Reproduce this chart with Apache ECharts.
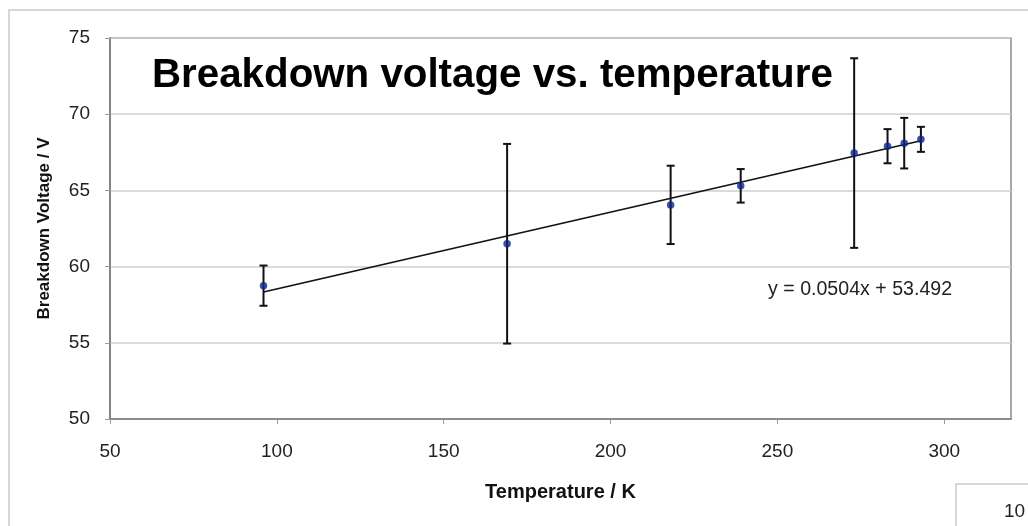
<!DOCTYPE html>
<html>
<head>
<meta charset="utf-8">
<script src="https://cdn.jsdelivr.net/npm/echarts@6/dist/echarts.min.js"></script>
<style>
html,body{margin:0;padding:0;background:#fff;}
#c{width:1028px;height:526px;}
</style>
</head>
<body>
<div id="c"></div>
<script>
// Data
var temperatures = [96, 169, 218, 239, 273, 283, 288, 293];
var voltages = [58.75, 61.5, 64.05, 65.3, 67.45, 67.9, 68.1, 68.35];
var errors = [1.32, 6.55, 2.57, 1.1, 6.22, 1.12, 1.66, 0.82];
var trendSlope = 0.0504;
var trendIntercept = 53.492;
var xTicks = [50, 100, 150, 200, 250, 300];
var yTicks = [50, 55, 60, 65, 70, 75];
var titleText = 'Breakdown voltage vs. temperature';
var equationText = 'y = 0.0504x + 53.492';

var FONT = '"Liberation Sans", Arial, Helvetica, sans-serif';
var points = temperatures.map(function (t, i) { return [t, voltages[i]]; });
var bars = temperatures.map(function (t, i) { return [t, voltages[i] - errors[i], voltages[i] + errors[i]]; });
var tMin = Math.min.apply(null, temperatures), tMax = Math.max.apply(null, temperatures);
var trend = [[tMin, trendSlope * tMin + trendIntercept], [tMax, trendSlope * tMax + trendIntercept]];

var chart = echarts.init(document.getElementById('c'), null, {renderer: 'canvas'});
chart.setOption({
  animation: false,
  backgroundColor: '#fff',
  grid: {left: 110, top: 38, right: 17, bottom: 107, show: true, borderColor: '#8a8a8a', borderWidth: 1.5, backgroundColor: 'transparent'},
  xAxis: {
    type: 'value', min: xTicks[0], max: 320, interval: 50,
    name: 'Temperature / K', nameLocation: 'middle', nameGap: 63,
    nameTextStyle: {fontFamily: FONT, fontWeight: 'bold', fontSize: 20, color: '#111'},
    axisLine: {show: true, lineStyle: {color: '#7a7a7a', width: 1.5}},
    axisTick: {show: true, inside: false, length: 5, lineStyle: {color: '#9a9a9a'}},
    axisLabel: {showMaxLabel: false, margin: 23, fontFamily: FONT, fontSize: 19, color: '#222'},
    splitLine: {show: false}
  },
  yAxis: {
    type: 'value', min: yTicks[0], max: yTicks[yTicks.length - 1], interval: 5,
    name: 'Breakdown Voltage / V', nameLocation: 'middle', nameGap: 57,
    nameTextStyle: {fontFamily: FONT, fontWeight: 'bold', fontSize: 17, color: '#111'},
    axisLine: {show: true, lineStyle: {color: '#7a7a7a', width: 1.5}},
    axisTick: {show: true, inside: false, length: 5, lineStyle: {color: '#9a9a9a'}},
    axisLabel: {margin: 20, fontFamily: FONT, fontSize: 19, color: '#222'},
    splitLine: {show: true, lineStyle: {color: '#cfcfcf', width: 1.5}}
  },
  series: [
    {
      type: 'line', data: trend, symbol: 'none', silent: true, z: 2,
      lineStyle: {color: '#111', width: 1.6}
    },
    {
      type: 'custom', data: bars, z: 3,
      renderItem: function (params, api) {
        var x = api.value(0);
        var lo = api.coord([x, api.value(1)]);
        var hi = api.coord([x, api.value(2)]);
        var w = 4;
        var st = {stroke: '#111', lineWidth: 2};
        return {type: 'group', children: [
          {type: 'line', shape: {x1: hi[0], y1: hi[1], x2: lo[0], y2: lo[1]}, style: st},
          {type: 'line', shape: {x1: hi[0] - w, y1: hi[1], x2: hi[0] + w, y2: hi[1]}, style: st},
          {type: 'line', shape: {x1: lo[0] - w, y1: lo[1], x2: lo[0] + w, y2: lo[1]}, style: st}
        ]};
      }
    },
    {
      type: 'scatter', data: points, symbol: 'circle', symbolSize: 7.5, z: 4,
      itemStyle: {color: '#0b258a'}
    }
  ],
  graphic: [
    {type: 'rect', z: -10, shape: {x: 9, y: 10, width: 1200, height: 700}, style: {fill: 'none', stroke: '#d6d6d6', lineWidth: 2}},
    {type: 'rect', z: 10, shape: {x: 956, y: 484, width: 200, height: 100}, style: {fill: '#fff', stroke: '#cccccc', lineWidth: 1.5}},
    {type: 'text', z: 11, x: 1004, y: 512, style: {text: '10', font: '19px ' + FONT, fill: '#222', textVerticalAlign: 'middle'}},
    {type: 'text', z: 20, x: 152, y: 76, style: {text: titleText, font: 'bold 40.3px ' + FONT, fill: '#000', textVerticalAlign: 'middle'}},
    {type: 'text', z: 20, x: 768, y: 290, style: {text: equationText, font: '19.6px ' + FONT, fill: '#222', textVerticalAlign: 'middle'}}
  ]
});
</script>
</body>
</html>
